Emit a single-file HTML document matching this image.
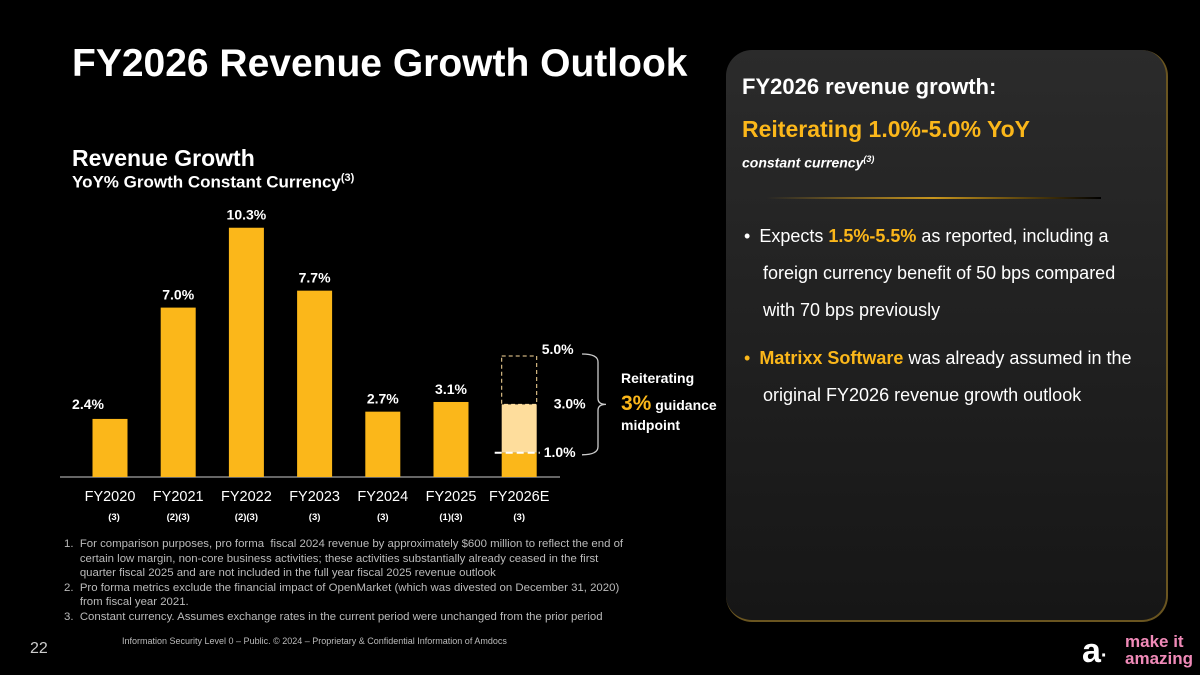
<!DOCTYPE html>
<html><head><meta charset="utf-8"><style>
body{margin:0;width:1200px;height:675px;background:#000;overflow:hidden;font-family:"Liberation Sans",sans-serif;color:#fff;position:relative}
.a{position:absolute;white-space:nowrap}
</style></head><body>
<div class="a" style="left:726px;top:50px;width:440px;height:570px;border-radius:26px;background:linear-gradient(#2b2b2b,#161616);border-right:2px solid #6a5520;border-bottom:2px solid #6a5520">
 <div class="a" style="left:16px;top:24px;font-size:22px;font-weight:bold">FY2026 revenue growth:</div>
 <div class="a" style="left:16px;top:66px;font-size:23px;font-weight:bold;color:#fbb71a">Reiterating 1.0%-5.0% YoY</div>
 <div class="a" style="left:16px;top:104px;font-size:14px;font-style:italic;font-weight:bold">constant currency<sup style="font-size:9px">(3)</sup></div>
 <div class="a" style="left:40px;top:147px;width:335px;height:2px;background:linear-gradient(90deg,rgba(0,0,0,0),#c8961e 50%,#000)"></div>
 <div class="a" style="left:18px;top:168px;font-size:18px;line-height:37px;white-space:normal;width:420px">• <span style="padding-left:4px">Expects <b style="color:#fbb71a">1.5%-5.5%</b> as reported, including a</span><br><span style="padding-left:19px">foreign currency benefit of 50 bps compared</span><br><span style="padding-left:19px">with 70 bps previously</span></div>
 <div class="a" style="left:18px;top:290px;font-size:18px;line-height:37px;white-space:normal;width:430px"><span style="color:#fbb71a">•</span> <span style="padding-left:4px"><b style="color:#fbb71a">Matrixx Software</b> was already assumed in the</span><br><span style="padding-left:19px">original FY2026 revenue growth outlook</span></div>
</div>
<div class="a" style="left:72px;top:42px;font-size:39px;font-weight:bold">FY2026 Revenue Growth Outlook</div>
<div class="a" style="left:72px;top:145px;font-size:23px;font-weight:bold">Revenue Growth</div>
<div class="a" style="left:72px;top:172px;font-size:17px;font-weight:bold">YoY% Growth Constant Currency<sup style="font-size:11px">(3)</sup></div>

<svg id="chart" class="a" style="left:0;top:0" width="726" height="540"></svg>

<div class="a" style="left:64px;top:537px;font-size:11.4px;color:#bbb;line-height:14.5px">
1.&nbsp; For comparison purposes, pro forma &nbsp;fiscal 2024 revenue by approximately $600 million to reflect the end of<br>
&nbsp;&nbsp;&nbsp;&nbsp; certain low margin, non-core business activities; these activities substantially already ceased in the first<br>
&nbsp;&nbsp;&nbsp;&nbsp; quarter fiscal 2025 and are not included in the full year fiscal 2025 revenue outlook<br>
2.&nbsp; Pro forma metrics exclude the financial impact of OpenMarket (which was divested on December 31, 2020)<br>
&nbsp;&nbsp;&nbsp;&nbsp; from fiscal year 2021.<br>
3.&nbsp; Constant currency. Assumes exchange rates in the current period were unchanged from the prior period</div>
<div class="a" style="left:30px;top:640px;font-size:16px;color:#ccc">22</div>
<div class="a" style="left:122px;top:636px;font-size:9px;color:#bbb">Information Security Level 0 – Public. © 2024 – Proprietary &amp; Confidential Information of Amdocs</div>
<div class="a" style="left:1125px;top:633px;font-size:17px;font-weight:bold;color:#f08ab8;line-height:17px">make it<br>amazing</div>
<div class="a" style="left:1082px;top:632px;font-size:34px;font-weight:bold;color:#fff">a<span style="color:#fff;font-size:20px">·</span></div>

<script>
const categories=["FY2020","FY2021","FY2022","FY2023","FY2024","FY2025","FY2026E"];
const values=[2.4,7.0,10.3,7.7,2.7,3.1];
const notes=["(3)","(2)(3)","(2)(3)","(3)","(3)","(1)(3)","(3)"];
const guideLow=[1.0];
const guideMid=[3.0];
const guideHigh=[5.0];
const svg=document.getElementById('chart');
const NS='http://www.w3.org/2000/svg';
const base=477,scale=24.2,x0=110,step=68.2,bw=35;
const X=i=>x0+i*step, Y=v=>base-v*scale;
function mk(t,a,txt){const e=document.createElementNS(NS,t);for(const k in a)e.setAttribute(k,a[k]);if(txt!=null)e.textContent=txt;svg.appendChild(e);return e;}
let ax=mk('line',{x1:60,x2:560,y1:base,y2:base,stroke:'#888','stroke-width':1.5});

values.forEach((v,i)=>{
 let r=mk('rect',{x:X(i)-bw/2,y:Y(v),width:bw,height:v*scale,fill:'#fbb71a'});
 
 
 let t=mk('text',{x:X(i)+(i==0?-22:0),y:(i==0?Y(v)-10:Y(v)-8),'text-anchor':'middle','font-size':14,'font-weight':'bold',fill:'#fff','font-family':'Liberation Sans'},v.toFixed(1)+'%');
 
 
});
const i6=6,xc=X(i6);
let r1=mk('rect',{x:xc-bw/2,y:Y(guideMid[0]),width:bw,height:(guideMid[0]-guideLow[0])*scale,fill:'#fedd9c'});

let r0=mk('rect',{x:xc-bw/2,y:Y(guideLow[0]),width:bw,height:guideLow[0]*scale,fill:'#fbb71a'});

let rd=mk('rect',{x:xc-bw/2,y:Y(guideHigh[0]),width:bw,height:(guideHigh[0]-guideMid[0])*scale,fill:'none',stroke:'#fedd9c','stroke-dasharray':'4 3','stroke-width':1});

let ld=mk('line',{x1:xc-bw/2-7,x2:xc+bw/2+3,y1:Y(guideLow[0]),y2:Y(guideLow[0]),stroke:'#fff','stroke-dasharray':'7 4','stroke-width':2});

[[guideHigh[0],0,-2],[guideMid[0],12,4],[guideLow[0],2,4]].forEach(([v,dx,dy])=>{
 let t=mk('text',{x:xc+bw/2+5+dx,y:Y(v)+dy,'font-size':14,'font-weight':'bold',fill:'#fff','font-family':'Liberation Sans'},v.toFixed(1)+'%');
 
});
let br=mk('path',{d:`M582 ${Y(5)-2} q16 0 16 8 v${(Y(3)-Y(5))-12} q0 6 8 6 q-8 0 -8 6 v${(Y(1)-Y(3))-12} q0 8 -16 8`,fill:'none',stroke:'#ccc','stroke-width':1.3});

let g1=mk('text',{x:621,y:383,'font-size':14,'font-weight':'bold',fill:'#fff','font-family':'Liberation Sans'},'Reiterating');

let g2=mk('text',{x:621,y:410,'font-size':14,'font-weight':'bold',fill:'#fff','font-family':'Liberation Sans'});
g2.innerHTML='<tspan font-size="21" fill="#fbb71a">3%</tspan> guidance';

let g3=mk('text',{x:621,y:430,'font-size':14,'font-weight':'bold',fill:'#fff','font-family':'Liberation Sans'},'midpoint');

categories.forEach((c,i)=>{
 let t=mk('text',{x:X(i),y:501,'text-anchor':'middle','font-size':14.5,fill:'#fff','font-family':'Liberation Sans'},c);
 
 let n=mk('text',{x:X(i)+(i==0?4:0),y:520,'text-anchor':'middle','font-size':9.5,'font-weight':'bold',fill:'#fff','font-family':'Liberation Sans'},notes[i]);
 
});
</script>
</body></html>
